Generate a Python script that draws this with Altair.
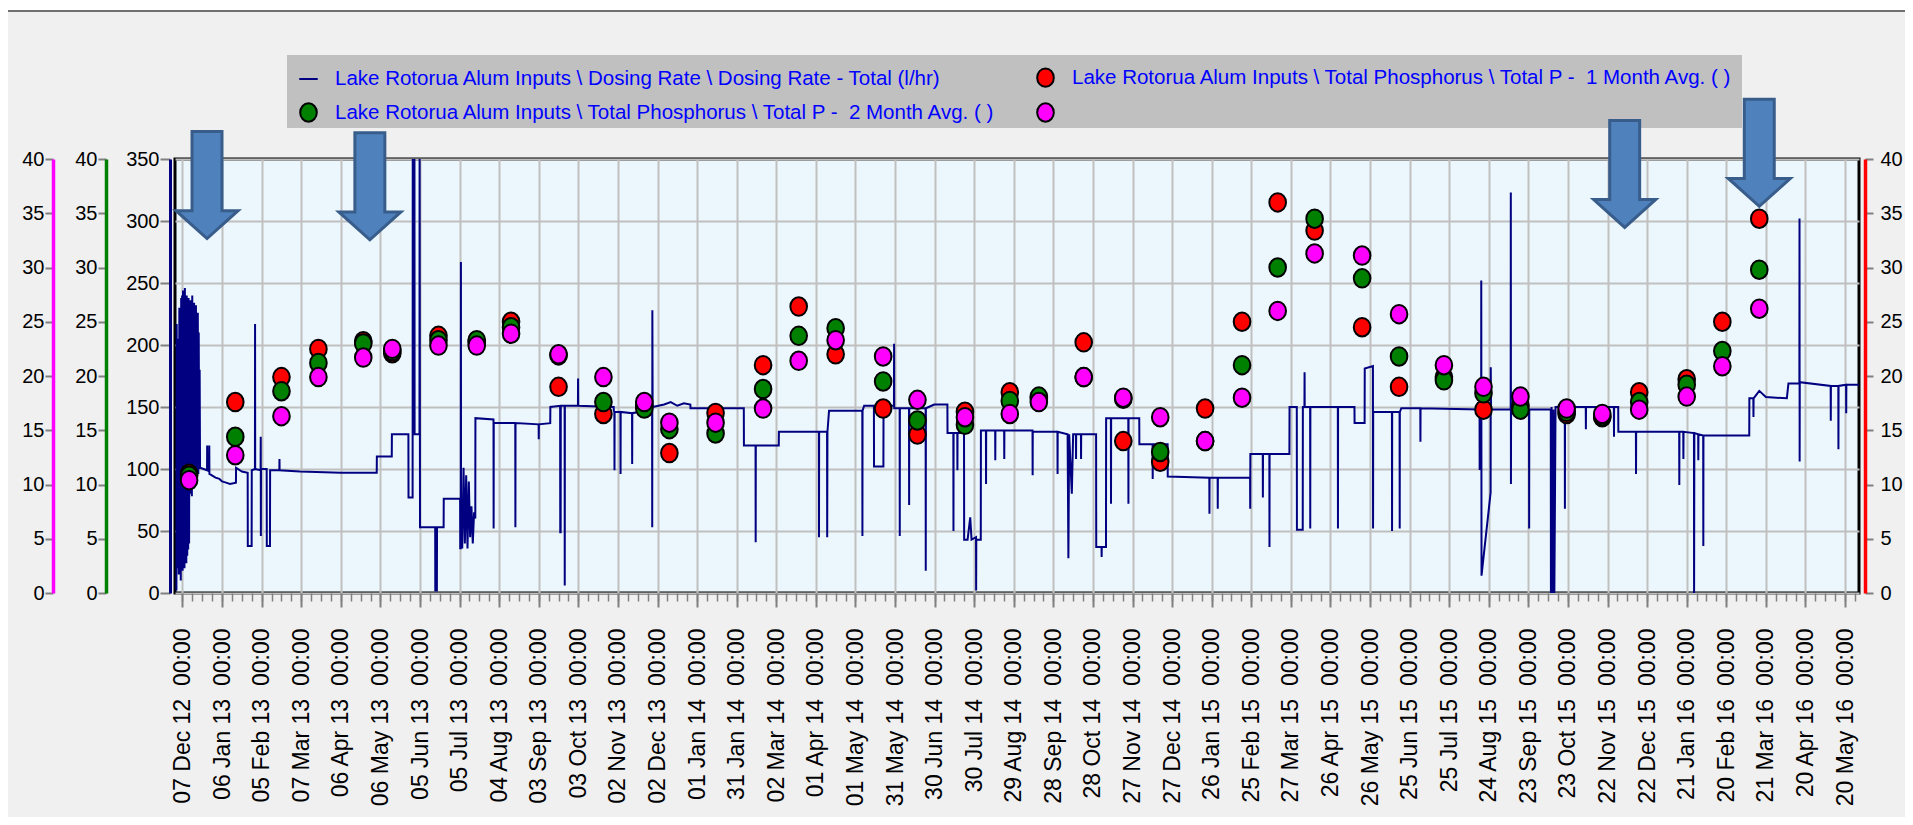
import altair as alt
import pandas as pd

# ---------------- data ----------------
BASE = pd.Timestamp("2012-12-07")

S_DOSE = "Lake Rotorua Alum Inputs \\ Dosing Rate \\ Dosing Rate - Total (l/hr)"
S_P1 = "Lake Rotorua Alum Inputs \\ Total Phosphorus \\ Total P - \u00a01 Month Avg. ( )"
S_P2 = "Lake Rotorua Alum Inputs \\ Total Phosphorus \\ Total P - \u00a02 Month Avg. ( )"
S_P3 = " "

tick_dates = [
    "2012-12-07", "2013-01-06", "2013-02-05", "2013-03-07", "2013-04-06", "2013-05-06",
    "2013-06-05", "2013-07-05", "2013-08-04", "2013-09-03", "2013-10-03", "2013-11-02",
    "2013-12-02", "2014-01-01", "2014-01-31", "2014-03-02", "2014-04-01", "2014-05-01",
    "2014-05-31", "2014-06-30", "2014-07-30", "2014-08-29", "2014-09-28", "2014-10-28",
    "2014-11-27", "2014-12-27", "2015-01-26", "2015-02-25", "2015-03-27", "2015-04-26",
    "2015-05-26", "2015-06-25", "2015-07-25", "2015-08-24", "2015-09-23", "2015-10-23",
    "2015-11-22", "2015-12-22", "2016-01-21", "2016-02-20", "2016-03-21", "2016-04-20",
    "2016-05-20",
]

# monthly phosphorus samples
p_dates = [
    "2012-12-12", "2013-01-16", "2013-02-20", "2013-03-20", "2013-04-23", "2013-05-15",
    "2013-06-19", "2013-07-18", "2013-08-13", "2013-09-18", "2013-10-22", "2013-11-22",
    "2013-12-11", "2014-01-15", "2014-02-20", "2014-03-19", "2014-04-16", "2014-05-22",
    "2014-06-17", "2014-07-23", "2014-08-26", "2014-09-17", "2014-10-21", "2014-11-20",
    "2014-12-18", "2015-01-21", "2015-02-18", "2015-03-17", "2015-04-14", "2015-05-20",
    "2015-06-17", "2015-07-21", "2015-08-20", "2015-09-17", "2015-10-22", "2015-11-18",
    "2015-12-16", "2016-01-21", "2016-02-17", "2016-03-16",
]
p1_vals = [11.0, 17.6, 19.9, 22.5, 23.2, 22.1, 23.7, 23.1, 25.0, 19.0, 16.5, 17.3,
           12.9, 16.6, 21.0, 26.4, 22.0, 17.0, 14.6, 16.7, 18.5, 17.9, 23.1, 14.0,
           12.1, 17.0, 25.0, 36.0, 33.4, 24.5, 19.0, 19.9, 16.9, 17.3, 16.5, 16.2,
           18.5, 19.7, 25.0, 34.5]
p2_vals = [10.8, 14.4, 18.6, 21.2, 23.0, 22.3, 23.3, 23.3, 24.5, 21.9, 17.6, 17.0,
           15.1, 14.7, 18.8, 23.7, 24.4, 19.5, 15.9, 15.5, 17.7, 18.1, 19.9, 17.9,
           13.0, 14.0, 21.0, 30.0, 34.5, 29.0, 21.8, 19.6, 18.4, 16.9, 16.7, 16.3,
           17.6, 19.2, 22.3, 29.8]
p3_vals = [10.4, 12.7, 16.3, 19.9, 21.7, 22.5, 22.8, 22.8, 23.9, 22.0, 19.9, 17.6,
           15.7, 15.7, 17.0, 21.4, 23.3, 21.8, 17.8, 16.2, 16.5, 17.6, 19.9, 18.0,
           16.2, 14.0, 18.0, 26.0, 31.3, 31.1, 25.7, 21.0, 19.0, 18.1, 17.0, 16.5,
           16.9, 18.1, 20.9, 26.2]

# dosing rate (l/hr): (days since 07 Dec 2012, value)
dose_2012_13 = [
    (-4.6, 2), (-4.4, 217), (-4.1, 20), (-3.8, 205), (-3.5, 45), (-3.1, 195), (-2.8, 15),
    (-2.4, 230), (-2.0, 30), (-1.7, 180), (-1.3, 10), (-1.0, 238), (-0.6, 22), (-0.3, 240),
    (0.1, 18), (0.4, 244), (0.8, 25), (1.1, 236), (1.5, 20), (1.8, 246), (2.2, 28),
    (2.5, 232), (2.9, 24), (3.2, 240), (3.6, 30), (3.9, 228), (4.3, 35), (4.6, 238),
    (5.0, 40), (5.3, 222), (5.7, 80), (6.0, 236), (6.4, 85), (6.7, 230), (7.1, 78),
    (7.4, 240), (7.8, 90), (8.1, 226), (8.5, 84), (8.8, 234), (9.2, 92), (9.5, 228),
    (9.9, 88), (10.2, 232), (10.6, 95), (10.9, 220), (11.3, 98), (11.6, 226), (12.0, 96),
    (12.3, 210), (12.7, 100), (13.0, 180), (13.3, 101),
    (16.0, 100), (18.6, 99), (18.7, 119), (18.8, 100), (20.2, 98), (20.3, 119), (20.4, 96),
    (22.0, 95), (25.0, 93), (28.0, 92), (30.0, 90), (33.0, 89), (36.0, 88), (40.5, 89),
    (40.6, 101), (45.0, 98), (49.4, 97), (49.5, 38), (52.4, 38), (52.5, 99), (54.9, 100),
    (55.0, 217), (55.1, 100), (59.2, 99), (59.3, 126), (59.4, 46), (59.5, 100), (63.8, 100),
    (63.9, 38), (66.3, 38), (66.4, 99), (73.4, 99), (73.5, 108), (73.6, 99), (89.0, 98),
    (120.0, 97), (147.2, 97), (147.3, 110), (158.6, 110), (158.7, 128), (171.2, 128),
    (171.3, 77), (174.4, 77), (174.5, 380), (175.8, 380), (175.9, 128), (179.6, 128),
    (179.7, 380), (180.0, 53),
]
dose_2013b = [
    (191.5, 53), (191.6, 2), (192.8, 2), (192.9, 53), (197.9, 53), (198.0, 76), (210.4, 76),
    (210.5, 36), (210.9, 36), (211.0, 267), (211.1, 60), (212.0, 36), (213.0, 101),
    (214.0, 40), (215.0, 95), (216.0, 36), (217.0, 90), (218.0, 45), (219.0, 70),
    (220.0, 40), (221.0, 65), (221.9, 60), (222.0, 141), (235.7, 140), (235.8, 52),
    (235.9, 137), (252.2, 137), (252.3, 53), (252.4, 137), (269.9, 136), (270.0, 124),
    (270.1, 136), (278.7, 137), (278.8, 150), (286.2, 151), (286.3, 49), (286.6, 49),
    (286.7, 151), (289.6, 151), (289.7, 6), (289.8, 151), (299.7, 151), (299.8, 173),
    (299.9, 151), (326.8, 150), (326.9, 147), (327.3, 146), (327.4, 99), (327.5, 146),
    (331.9, 146), (332.0, 96), (332.1, 146), (340.7, 145), (340.8, 104), (340.9, 145),
    (355.9, 148), (356.0, 53), (356.1, 228), (356.3, 150), (365.0, 152), (370.0, 154),
    (375.0, 151), (380.0, 153), (384.9, 152), (385.0, 149),
]
dose_2014 = [
    (425.4, 149), (425.5, 119), (434.3, 119), (434.4, 41), (434.5, 119), (451.9, 119),
    (452.0, 130), (482.3, 130), (482.4, 45), (482.5, 130), (488.5, 130), (488.6, 45),
    (488.8, 130), (490.0, 147), (515.2, 147), (515.3, 46), (515.4, 147), (516.6, 151),
    (524.0, 151), (524.1, 102), (531.2, 102), (531.3, 151), (539.2, 151), (539.3, 201),
    (539.4, 149), (543.5, 149), (543.6, 46), (543.7, 149), (550.6, 149), (550.7, 71),
    (550.8, 149), (563.2, 149), (563.3, 18), (563.4, 149), (569.7, 152), (579.7, 152),
    (579.8, 129), (584.2, 129), (584.3, 50), (584.4, 129), (587.2, 129), (587.3, 99),
    (587.4, 129), (592.3, 129), (592.4, 43), (595.0, 43), (597.0, 61), (598.0, 43),
    (601.4, 45), (601.5, 2), (601.6, 43), (605.0, 43), (605.1, 131), (608.9, 131),
    (609.0, 88), (609.1, 131), (615.9, 131), (616.0, 107), (616.1, 131), (622.7, 131),
    (622.8, 108), (622.9, 131), (644.2, 131), (644.3, 95), (644.4, 130), (663.1, 130),
    (663.2, 96), (663.3, 130), (670.8, 128), (671.4, 28), (672.0, 128), (674.0, 80),
    (675.0, 128), (677.1, 128), (677.2, 108), (677.3, 128), (680.9, 128), (681.0, 108),
    (681.1, 128), (692.4, 128), (692.5, 37), (696.5, 37), (696.6, 29), (696.7, 37),
    (699.9, 37), (700.0, 141), (703.6, 141), (703.7, 72), (703.8, 141), (716.8, 141),
    (716.9, 72), (717.0, 141), (725.1, 141), (725.2, 120), (735.2, 120), (735.3, 92),
    (735.4, 120), (746.6, 120), (746.7, 94),
]
dose_2015 = [
    (778.2, 93), (778.3, 64), (778.4, 93), (784.5, 93), (784.6, 68), (784.7, 93),
    (809.1, 93), (809.2, 68), (809.3, 112), (818.7, 112), (818.8, 77), (818.9, 112),
    (823.7, 112), (823.8, 37), (823.9, 112), (838.9, 112), (839.0, 150), (844.5, 150),
    (844.6, 51), (849.0, 51), (849.1, 150), (850.3, 150), (850.4, 178), (850.5, 150),
    (854.6, 150), (854.7, 52), (854.8, 150), (875.6, 150), (875.7, 52), (875.8, 150),
    (888.2, 150), (888.3, 137), (895.9, 137), (896.0, 181), (902.2, 183), (902.3, 52),
    (902.4, 146), (916.6, 146), (916.7, 50), (916.8, 146), (922.4, 146), (922.5, 52),
    (922.6, 146), (923.7, 149), (938.1, 149), (938.2, 122), (938.3, 149), (983.0, 148),
    (983.1, 100), (984.2, 100), (984.3, 252), (984.5, 14), (991.4, 81), (991.5, 182),
    (991.7, 148), (1006.6, 148), (1006.7, 323), (1006.8, 88), (1006.9, 148), (1020.5, 148),
    (1020.6, 52), (1020.7, 148), (1037.0, 148), (1037.1, 0), (1037.6, 150), (1038.3, 0),
    (1039.0, 148), (1039.7, 0), (1040.6, 150), (1047.6, 150), (1047.7, 68), (1047.8, 150),
    (1063.5, 150), (1063.6, 132), (1063.7, 150), (1084.8, 150), (1084.9, 126),
    (1085.0, 150), (1088.1, 150), (1088.2, 130),
]
dose_2016 = [
    (1101.5, 130), (1101.6, 96), (1101.7, 130), (1134.3, 130), (1134.4, 87), (1134.5, 130),
    (1137.4, 130), (1137.5, 108), (1137.6, 130), (1145.5, 129), (1145.6, 0), (1145.8, 129),
    (1148.7, 128), (1148.8, 107), (1148.9, 128), (1152.5, 127), (1152.6, 38), (1152.7, 127),
    (1187.4, 127), (1187.5, 157), (1190.5, 157), (1190.6, 142), (1190.7, 157), (1195.0, 163),
    (1200.0, 158), (1215.9, 157), (1217.1, 169), (1225.4, 169), (1225.5, 302), (1225.6, 106),
    (1225.7, 170), (1249.1, 167), (1249.2, 139), (1249.3, 167), (1254.9, 167), (1255.0, 116),
    (1255.1, 167), (1260.8, 168), (1260.9, 145), (1261.0, 168), (1271.5, 168),
]

# annotation arrows (date, height on the l/hr axis)
arrow_dates = ["2012-12-25 14:00", "2013-04-28 00:00", "2015-12-05 00:00", "2016-03-16 00:00"]
arrow_heights = [329, 328, 338, 355]

# ---------------- frames ----------------
dose_rows = []
for seg in (dose_2012_13, dose_2013b, dose_2014, dose_2015, dose_2016):
    for d, v in seg:
        dose_rows.append({"date": BASE + pd.Timedelta(days=d), "value": v})
dose_df = pd.DataFrame(dose_rows)

arrow_df = pd.DataFrame({"date": [pd.Timestamp(s) for s in arrow_dates], "value": arrow_heights})


def dt(ts):
    ts = pd.Timestamp(ts)
    return alt.DateTime(year=ts.year, month=ts.month, date=ts.day, hours=ts.hour, minutes=ts.minute)


major_ticks = [dt(s) for s in tick_dates]
minor_ticks = [dt(BASE + pd.Timedelta(hours=180 * k)) for k in range(170)]

FONT = "Liberation Sans"
ELLIPSE = "M0,-1A0.9,1,0,1,1,0,1A0.9,1,0,1,1,0,-1Z"
ARROW = "M-0.28,-1L0.28,-1L0.28,0.48L0.58,0.48L0,1L-0.58,0.48L-0.28,0.48Z"

x_scale = alt.Scale(domain=[alt.DateTime(year=2012, month=12, date=1, hours=7, minutes=40),
                            alt.DateTime(year=2016, month=5, date=30, hours=14)])
main_scale = alt.Scale(domain=[0, 350], nice=False)
p_scale = alt.Scale(domain=[0, 40], nice=False)

x_axis_main = alt.Axis(values=major_ticks, format="%d %b %y\u00a0\u00a0%H:%M", labelAngle=-90,
                       labelFontSize=23, labelFont=FONT, labelColor="black", labelPadding=21,
                       labelLimit=400, labelOverlap=False, labelFlush=False, tickSize=14,
                       tickWidth=2, tickColor="#808080", domain=False, grid=True,
                       gridColor="#c0c0c0", gridWidth=2, title=None)
x_axis_minor = alt.Axis(values=minor_ticks, orient="bottom", labels=False, domain=False,
                        grid=False, tickSize=8, tickWidth=1.5, tickColor="#808080", title=None)

y_axis_main = alt.Axis(values=list(range(0, 351, 50)), orient="left", offset=5,
                       domainColor="#000080", domainWidth=3, tickColor="#808080", tickWidth=2,
                       tickSize=10, labelFontSize=20, labelFont=FONT, labelColor="black",
                       labelPadding=1, grid=True, gridColor="#c0c0c0", gridWidth=2, title=None)


def p_axis(orient, offset, color, pad):
    return alt.Axis(values=list(range(0, 41, 5)), orient=orient, offset=offset,
                    domainColor=color, domainWidth=3.5, tickColor="#808080", tickWidth=2,
                    tickSize=8, labelFontSize=20, labelFont=FONT, labelColor="black",
                    labelPadding=pad, grid=False, title=None)


domain_series = [S_DOSE, S_P1, S_P2, S_P3]
fill_scale = alt.Scale(domain=domain_series, range=["#000080", "#ff0000", "#008000", "#ff00ff"])
stroke_scale = alt.Scale(domain=domain_series, range=["#000080", "#000000", "#000000", "#000000"])
shape_scale = alt.Scale(domain=domain_series, range=["stroke", ELLIPSE, ELLIPSE, ELLIPSE])

legend = alt.Legend(title=None, orient="none", legendX=123, legendY=-92, direction="horizontal",
                    columns=2, labelFontSize=20.5, labelFont=FONT, labelColor="#0000ff",
                    labelLimit=2000, symbolSize=342, symbolStrokeWidth=2, labelOffset=16,
                    rowPadding=8, columnPadding=36, padding=0)

# ---------------- layers ----------------
one_row = alt.Data(values=[{"k": 1}])
top_white = alt.Chart(one_row).mark_rect(color="white").encode(
    x=alt.value(-167), x2=alt.value(1740), y=alt.value(-151), y2=alt.value(-149))
top_rule = alt.Chart(one_row).mark_rule(color="#707070", strokeWidth=2).encode(
    x=alt.value(-167), x2=alt.value(1740), y=alt.value(-148))
legend_box = alt.Chart(one_row).mark_rect(color="#c0c0c0").encode(
    x=alt.value(112), x2=alt.value(1567), y=alt.value(-104), y2=alt.value(-31))

dose_line = alt.Chart(dose_df).mark_line(color="#000080", strokeWidth=2, clip=True).encode(
    x=alt.X("date:T", scale=x_scale, axis=x_axis_main),
    y=alt.Y("value:Q", scale=main_scale, axis=y_axis_main),
)
arrows = alt.Chart(arrow_df).mark_point(shape=ARROW, size=11449, filled=True, fill="#4f81bd",
                                        stroke="#385d8a", strokeWidth=3, opacity=1).encode(
    x=alt.X("date:T", scale=x_scale, axis=x_axis_main),
    y=alt.Y("value:Q", scale=main_scale, axis=y_axis_main),
)
base = alt.layer(top_white, top_rule, legend_box, dose_line, arrows)


def p_layer(vals, name, y_axis, x_axis):
    df = pd.DataFrame({"date": [pd.Timestamp(s) for s in p_dates], "value": vals, "series": name})
    return alt.Chart(df).mark_point(filled=True, size=342, strokeWidth=2, opacity=1).encode(
        x=alt.X("date:T", scale=x_scale, axis=x_axis),
        y=alt.Y("value:Q", scale=p_scale, axis=y_axis),
        fill=alt.Fill("series:N", scale=fill_scale, legend=legend),
        stroke=alt.Stroke("series:N", scale=stroke_scale, legend=legend),
        shape=alt.Shape("series:N", scale=shape_scale, legend=legend),
    )


red = p_layer(p1_vals, S_P1, p_axis("right", 6, "#ff0000", 7), x_axis_minor)
green = p_layer(p2_vals, S_P2, p_axis("left", 69, "#008000", 1), None)
magenta = p_layer(p3_vals, S_P3, p_axis("left", 122, "#ff00ff", 1), None)

chart = alt.layer(base, red, green, magenta).resolve_scale(
    y="independent"
).resolve_axis(
    x="independent", y="independent"
).properties(
    width=1684, height=434,
    autosize=alt.AutoSizeParams(type="none"),
    padding={"left": 167, "top": 151, "right": 46, "bottom": 224},
    background="#f0f0f0",
).configure_view(
    fill="#ecf7fd", stroke="black", strokeWidth=3
)

chart.save("out.html", embed_options={"renderer": "svg", "actions": False})
